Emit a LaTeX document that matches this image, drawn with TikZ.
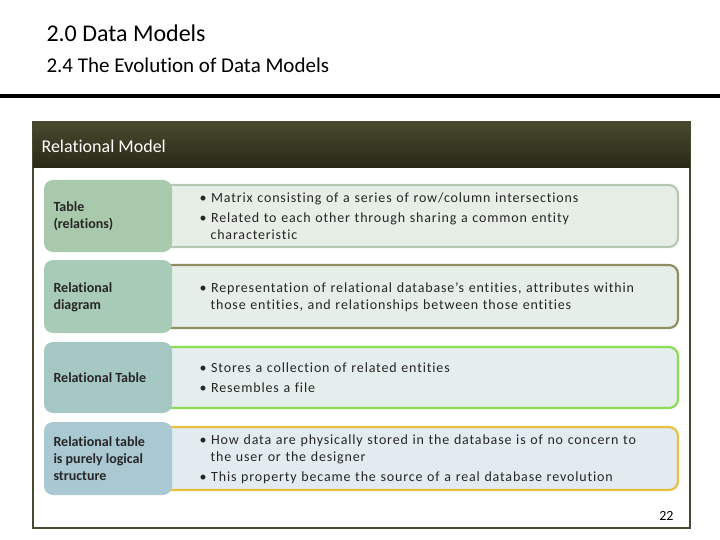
\documentclass[tikz,border=0pt]{standalone}
\usepackage{fontspec}
\setmainfont[Ligatures={NoCommon}]{Carlito}
\begin{document}
\begin{tikzpicture}[x=1pt,y=-1pt,
 ltxt/.style={anchor=west,align=left,font=\fontsize{14}{17}\selectfont\bfseries,text=black!85},
 rtxt/.style={anchor=west,align=left,font=\fontsize{14}{17}\selectfont\addfontfeature{LetterSpace=6}\addfontfeature{Ligatures={NoCommon}},text=black!85,text width=480pt}]
\useasboundingbox (0,0) rectangle (720,540);
\node[anchor=base west,font=\fontsize{24}{28}\selectfont] (t1) at (43,42) {2.0 Data Models};
\node[anchor=base west,font=\fontsize{21}{24}\selectfont] (t2) at (43,73) {2.4 The Evolution of Data Models};
\draw[line width=3.5pt] (0,96) -- (720,96);
\definecolor{olv}{RGB}{74,74,48}
\definecolor{olvd}{RGB}{40,40,22}
\draw[line width=2.5pt,draw=olv] (33,122) rectangle (690,528);
\shade[top color=olv,bottom color=olvd] (33,122) rectangle (690,168);
\node[anchor=west,text=white,font=\fontsize{18}{20}\selectfont] (hd) at (38,146) {Relational Model};
\foreach \ya/\yb/\lc/\bc/\fc in {
 180/252/{rgb,255:red,169;green,201;blue,173}/{rgb,255:red,184;green,200;blue,176}/{rgb,255:red,230;green,238;blue,230},
 260/333/{rgb,255:red,168;green,203;blue,184}/{rgb,255:red,142;green,142;blue,96}/{rgb,255:red,230;green,238;blue,232},
 342/413/{rgb,255:red,166;green,200;blue,196}/{rgb,255:red,136;green,221;blue,85}/{rgb,255:red,228;green,238;blue,236},
 422/495/{rgb,255:red,169;green,200;blue,210}/{rgb,255:red,232;green,192;blue,64}/{rgb,255:red,226;green,236;blue,240}}{
 \pgfmathsetmacro\ra{\ya+5}\pgfmathsetmacro\rb{\yb-5}
 \draw[rounded corners=9pt,line width=2.2pt,fill=\fc,draw=\bc] (160,\ra) rectangle (678,\rb);
 \fill[rounded corners=9pt,fill=\lc] (44,\ya) rectangle (172,\yb);
}
\node[ltxt] (l1) at (50,216) {Table\\(relations)};
\node[ltxt] (l2) at (50,297) {Relational\\diagram};
\node[ltxt] (l3) at (50,378) {Relational Table};
\node[ltxt] (l4) at (50,459) {Relational table\\is purely logical\\structure};
\node[rtxt] (r1) at (207,216) {\hspace*{-11pt}• Matrix consisting of a series of row/column intersections\\[3pt]\hspace*{-11pt}• Related to each other through sharing a common entity\\characteristic};
\node[rtxt] (r2) at (207,297) {\hspace*{-11pt}• Representation of relational database’s entities, attributes within\\those entities, and relationships between those entities};
\node[rtxt] (r3) at (207,378) {\hspace*{-11pt}• Stores a collection of related entities\\[3pt]\hspace*{-11pt}• Resembles a file};
\node[rtxt] (r4) at (207,459) {\hspace*{-11pt}• How data are physically stored in the database is of no concern to\\the user or the designer\\[3pt]\hspace*{-11pt}• This property became the source of a real database revolution};
\node[anchor=base east,font=\fontsize{14}{16}\selectfont] (pg) at (677,520) {22};
\end{tikzpicture}
\end{document}
